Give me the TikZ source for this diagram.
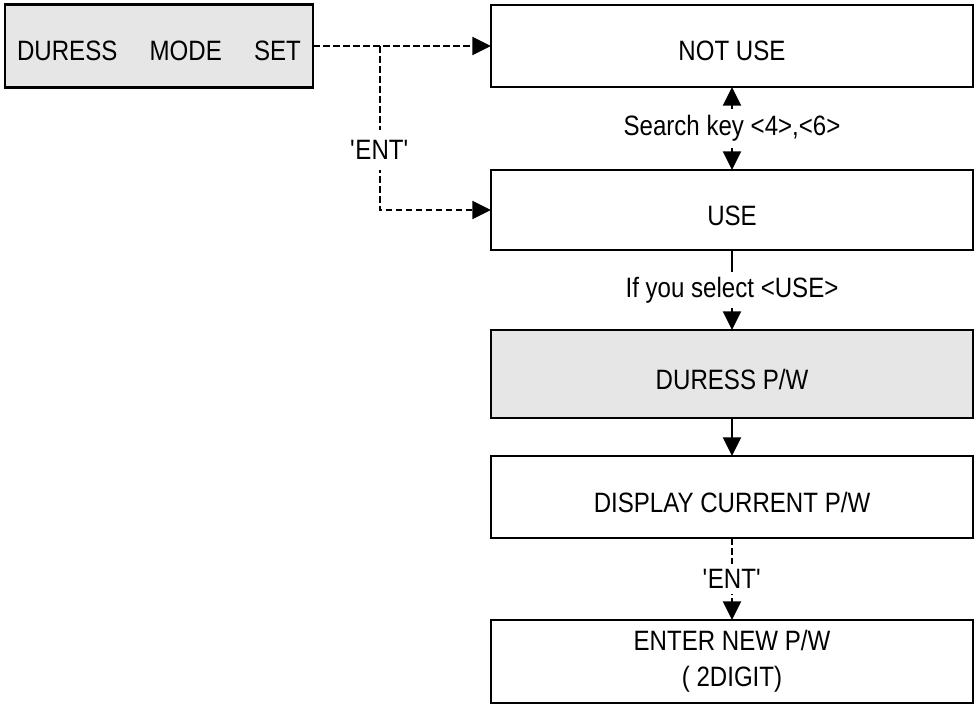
\documentclass[tikz,border=0pt]{standalone}
\usepackage{fontspec}
\setmainfont{Liberation Sans}[FakeStretch=0.86]
\usetikzlibrary{arrows.meta,positioning}
\definecolor{boxgray}{RGB}{230,230,230}
\tikzset{menu/.style={draw,line width=1.6pt,inner sep=0pt,outer sep=0pt,
    font=\fontsize{21}{27}\selectfont,align=center,minimum width=361.5pt}}
\tikzset{oneline/.style={text height=22.5pt,text depth=0pt}}
\tikzset{flow/.style={line width=1.5pt,-{Triangle[length=14pt,width=13.5pt]}}}
\tikzset{keyflow/.style={flow,dash pattern=on 5pt off 2.5pt}}
\tikzset{keylabel/.style={fill=white,inner xsep=2pt,inner ysep=4pt,
    font=\fontsize{21}{25}\selectfont}}

\begin{document}
\begin{tikzpicture}[x=0.75pt,y=-0.75pt]
          \useasboundingbox (0,0) rectangle (978,706);

          \node[menu,oneline,fill=boxgray,minimum width=231pt,minimum height=62.25pt] (dms) at (159,46)
               {DURESS\hspace{1.15em}MODE\hspace{1.15em}SET};

          \node[menu,oneline,minimum height=61.5pt] (notuse) at (732,46) {NOT USE};
          \node[menu,oneline,minimum height=60pt,below=62.25pt of notuse] (use) {USE};
          \node[menu,oneline,fill=boxgray,minimum height=66pt,below=60pt of use] (durpw) {DURESS P/W};
          \node[menu,oneline,minimum height=61.5pt,below=28.5pt of durpw] (dispcur) {DISPLAY CURRENT P/W};
          \node[menu,minimum height=62.25pt,below=61.5pt of dispcur] (enterpw) {ENTER NEW P/W\\( 2DIGIT)};

          \draw[keyflow] (dms.east) -- coordinate[pos=0.374] (split) (notuse.west);
          \draw[keyflow] (split) |- node[pos=0.317,keylabel,inner ysep=8pt] {\textquotesingle ENT\textquotesingle} (use.west);

          \draw[flow,{Triangle[length=14pt,width=13.5pt]}-{Triangle[length=14pt,width=13.5pt]}]
               (notuse.south) -- node[keylabel,inner ysep=5.2pt] {Search key <4>,<6>} (use.north);
          \draw[flow] (use.south) -- node[keylabel] {If you select <USE>} (durpw.north);
          \draw[flow] (durpw.south) -- (dispcur.north);
          \draw[keyflow] (dispcur.south) -- node[keylabel] {\textquotesingle ENT\textquotesingle} (enterpw.north);
          %\draw[flow] (enterpw.south) -- ++(0,20);
        \end{tikzpicture}
\end{document}
